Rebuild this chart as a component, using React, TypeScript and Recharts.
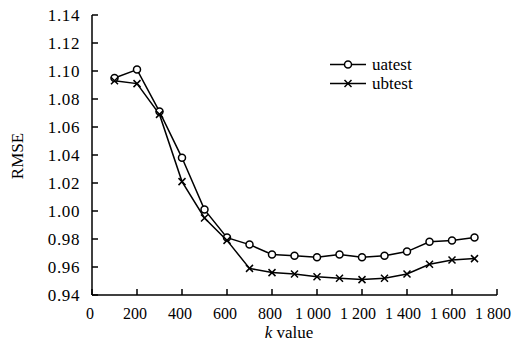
import { LineChart, Line, XAxis, YAxis } from 'recharts';

const kValues = [100, 200, 300, 400, 500, 600, 700, 800, 900, 1000, 1100, 1200, 1300, 1400, 1500, 1600, 1700];
const uatest = [1.095, 1.101, 1.071, 1.038, 1.001, 0.981, 0.976, 0.969, 0.968, 0.967, 0.969, 0.967, 0.968, 0.971, 0.978, 0.979, 0.981];
const ubtest = [1.093, 1.091, 1.069, 1.021, 0.995, 0.979, 0.959, 0.956, 0.955, 0.953, 0.952, 0.951, 0.952, 0.955, 0.962, 0.965, 0.966];
const xTicks = [0, 200, 400, 600, 800, 1000, 1200, 1400, 1600, 1800];
const yTicks = [0.94, 0.96, 0.98, 1.0, 1.02, 1.04, 1.06, 1.08, 1.1, 1.12, 1.14];
const seriesNames = ['uatest', 'ubtest'];

const data = kValues.map((k, i) => ({ k, uatest: uatest[i], ubtest: ubtest[i] }));

const FONT = "'Liberation Serif', 'Times New Roman', serif";
const txt = { fontFamily: FONT, fontSize: 17 };

const XTick = (props: any) => {
  const { x, y, payload } = props;
  const v: number = payload.value;
  const big = v >= 1000;
  // thousands group split by a small gap, as in the source figure
  return (
    <g>
      <line x1={x} x2={x} y1={y} y2={y - 6} stroke="#000" strokeWidth={1.5} />
      {big ? (
        <text x={x - 4} y={y + 24} textAnchor="middle" style={{ ...txt, fontSize: 16 }} fill="#000">
          <tspan>{Math.floor(v / 1000)}</tspan>
          <tspan dx={4}>{String(v % 1000).padStart(3, '0')}</tspan>
        </text>
      ) : (
        <text x={x - 2} y={y + 24} textAnchor="middle" style={{ ...txt, fontSize: 16 }} fill="#000">
          {v}
        </text>
      )}
    </g>
  );
};

const YTick = (props: any) => {
  const { x, y, payload } = props;
  return (
    <g>
      <line x1={x} x2={x + 6} y1={y} y2={y} stroke="#000" strokeWidth={1.5} />
      <text x={x - 12} y={y + 6} textAnchor="end" style={{ ...txt, letterSpacing: 0.6 }} fill="#000">
        {payload.value.toFixed(2)}
      </text>
    </g>
  );
};

const CircleDot = (props: any) => {
  const { cx, cy } = props;
  return <circle cx={cx} cy={cy} r={3.5} fill="#fff" stroke="#000" strokeWidth={1.5} />;
};

const CrossDot = (props: any) => {
  const { cx, cy } = props;
  const s = 3.5;
  return (
    <path d={`M${cx - s},${cy - s}L${cx + s},${cy + s}M${cx - s},${cy + s}L${cx + s},${cy - s}`} stroke="#000" strokeWidth={1.5} />
  );
};

const LegendBox = () => (
  <div style={{ position: 'absolute', top: 55, left: 330, fontFamily: FONT, fontSize: 17, color: '#000', lineHeight: '19px' }}>
    {seriesNames.map((name) => (
      <div key={name} style={{ display: 'flex', alignItems: 'center', height: 19 }}>
        <svg width={36} height={19} style={{ marginRight: 6 }}>
          <line x1={0} x2={36} y1={9.5} y2={9.5} stroke="#000" strokeWidth={1.5} />
          {name === 'uatest' ? (
            <circle cx={18} cy={9.5} r={3.5} fill="#fff" stroke="#000" strokeWidth={1.5} />
          ) : (
            <path d="M14.5,6L21.5,13M14.5,13L21.5,6" stroke="#000" strokeWidth={1.5} />
          )}
        </svg>
        <span>{name}</span>
      </div>
    ))}
  </div>
);

export default function App() {
  return (
    <div style={{ position: 'absolute', top: 0, left: 0, width: 512, height: 344, background: '#fff' }}>
      <LineChart width={512} height={344} data={data} margin={{ top: 15, right: 15, left: 0, bottom: 0 }}>
        <XAxis
          dataKey="k"
          type="number"
          domain={[0, 1800]}
          ticks={xTicks}
          interval={0}
          tickSize={0}
          tickMargin={0}
          tickLine={false}
          tick={<XTick />}
          height={49}
          stroke="#000"
          strokeWidth={1.5}
          label={{
            content: () => (
              <text x={289} y={338} textAnchor="middle" style={txt} fill="#000">
                <tspan fontStyle="italic">k</tspan> value
              </text>
            ),
          }}
        />
        <YAxis
          type="number"
          domain={[0.94, 1.14]}
          ticks={yTicks}
          interval={0}
          width={92}
          tickSize={0}
          tickMargin={0}
          tickLine={false}
          tick={<YTick />}
          stroke="#000"
          strokeWidth={1.5}
          label={{
            content: () => (
              <text x={23} y={156} textAnchor="middle" style={txt} fill="#000" transform="rotate(-90 23 156)">
                RMSE
              </text>
            ),
          }}
        />
        <Line dataKey="uatest" stroke="#000" strokeWidth={1.5} dot={<CircleDot />} isAnimationActive={false} />
        <Line dataKey="ubtest" stroke="#000" strokeWidth={1.5} dot={<CrossDot />} isAnimationActive={false} />
      </LineChart>
      <LegendBox />
    </div>
  );
}
